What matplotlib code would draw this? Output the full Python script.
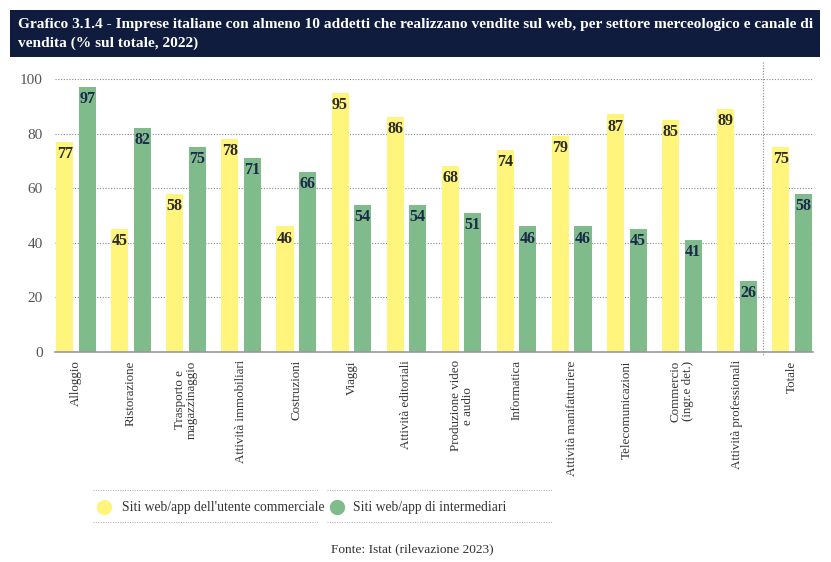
import numpy as np
import matplotlib.pyplot as plt
from matplotlib.lines import Line2D
from matplotlib.patches import Rectangle

# Data
categories = ["Alloggio", "Ristorazione", "Trasporto e\nmagazzinaggio", "Attività immobiliari",
              "Costruzioni", "Viaggi", "Attività editoriali", "Produzione video\ne audio",
              "Informatica", "Attività manifatturiere", "Telecomunicazioni",
              "Commercio\n(ingr.e det.)", "Attività professionali", "Totale"]
commerciale = [77, 45, 58, 78, 46, 95, 86, 68, 74, 79, 87, 85, 89, 75]
intermediari = [97, 82, 75, 71, 66, 54, 54, 51, 46, 46, 45, 41, 26, 58]
yticks = [0, 20, 40, 60, 80, 100]

YEL = "#fff57c"
GRN = "#80bb8b"
NAVY = "#0f1c3d"
SERIF = ["Liberation Serif", "DejaVu Serif"]

plt.rcParams['font.family'] = SERIF

fig = plt.figure(figsize=(8.31, 5.62), dpi=100)
W, H = 831, 562

def fx(px): return px / W
def fy(py): return 1 - py / H

# title banner
fig.patches.append(Rectangle((fx(10), fy(57)), fx(810), 47 / H, transform=fig.transFigure,
                             facecolor=NAVY, edgecolor="none"))
fig.text(fx(18), fy(34), "Grafico 3.1.4 - Imprese italiane con almeno 10 addetti che realizzano vendite sul web, per settore merceologico e canale di\nvendita (% sul totale, 2022)",
         color="white", fontsize=11.1, fontweight="bold", va="center", ha="left",
         linespacing=1.45)

ax = fig.add_axes([fx(55), fy(352), fx(813) - fx(55), (352 - 79) / H])
x = np.arange(len(categories))
w = 0.31
ax.bar(x - 0.205, commerciale, w, color=YEL, zorder=2)
ax.bar(x + 0.205, intermediari, w, color=GRN, zorder=2)
for i in range(len(categories)):
    ax.text(x[i] - 0.205, commerciale[i] - 1.5, str(commerciale[i]), ha="center", va="top",
            fontsize=11.5, fontweight="bold", color="#2a2a2a", zorder=3)
    ax.text(x[i] + 0.205, intermediari[i] - 1.5, str(intermediari[i]), ha="center", va="top",
            fontsize=11.5, fontweight="bold", color="#1b2a4a", zorder=3)

ax.set_xlim(-0.38, len(categories) - 1 + 0.38)
ax.set_ylim(0, 100)
ax.set_yticks(yticks)
ax.yaxis.grid(True, linestyle=(0, (1, 1.5)), color="#888888", linewidth=0.8, zorder=0)
for s in ["left", "right", "top"]:
    ax.spines[s].set_visible(False)
ax.spines["bottom"].set_color("#999999")
ax.spines["bottom"].set_linewidth(1.2)
ax.tick_params(axis="y", length=0, pad=9, labelsize=11, labelcolor="#555555")
ax.tick_params(axis="x", length=0, pad=6)
ax.set_xticks(x)
ax.set_xticklabels(categories, rotation=90, va="top", ha="center", fontsize=9.4,
                   color="#333333", linespacing=1.0)

# separator before Totale
fig.add_artist(Line2D([fx(763), fx(763)], [fy(62), fy(356)], transform=fig.transFigure,
                      linestyle=(0, (1, 1.5)), color="#888888", linewidth=0.8))

# legend
for y in [490, 522]:
    for x0, x1 in [(93, 318), (327, 552)]:
        fig.add_artist(Line2D([fx(x0), fx(x1)], [fy(y), fy(y)], transform=fig.transFigure,
                              linestyle=(0, (1, 1.5)), color="#aaaaaa", linewidth=0.7))
fig.add_artist(Line2D([fx(104)], [fy(507)], marker="o", markersize=10, color=YEL,
                      linestyle="none", transform=fig.transFigure))
fig.text(fx(122), fy(507), "Siti web/app dell'utente commerciale", fontsize=9.8,
         va="center", color="#333333")
fig.add_artist(Line2D([fx(337)], [fy(507)], marker="o", markersize=10, color=GRN,
                      linestyle="none", transform=fig.transFigure))
fig.text(fx(353), fy(507), "Siti web/app di intermediari", fontsize=9.8,
         va="center", color="#333333")

fig.text(fx(412), fy(549), "Fonte: Istat (rilevazione 2023)", fontsize=9.6, ha="center",
         va="center", color="#333333")

fig.savefig("out.png", dpi=100)
